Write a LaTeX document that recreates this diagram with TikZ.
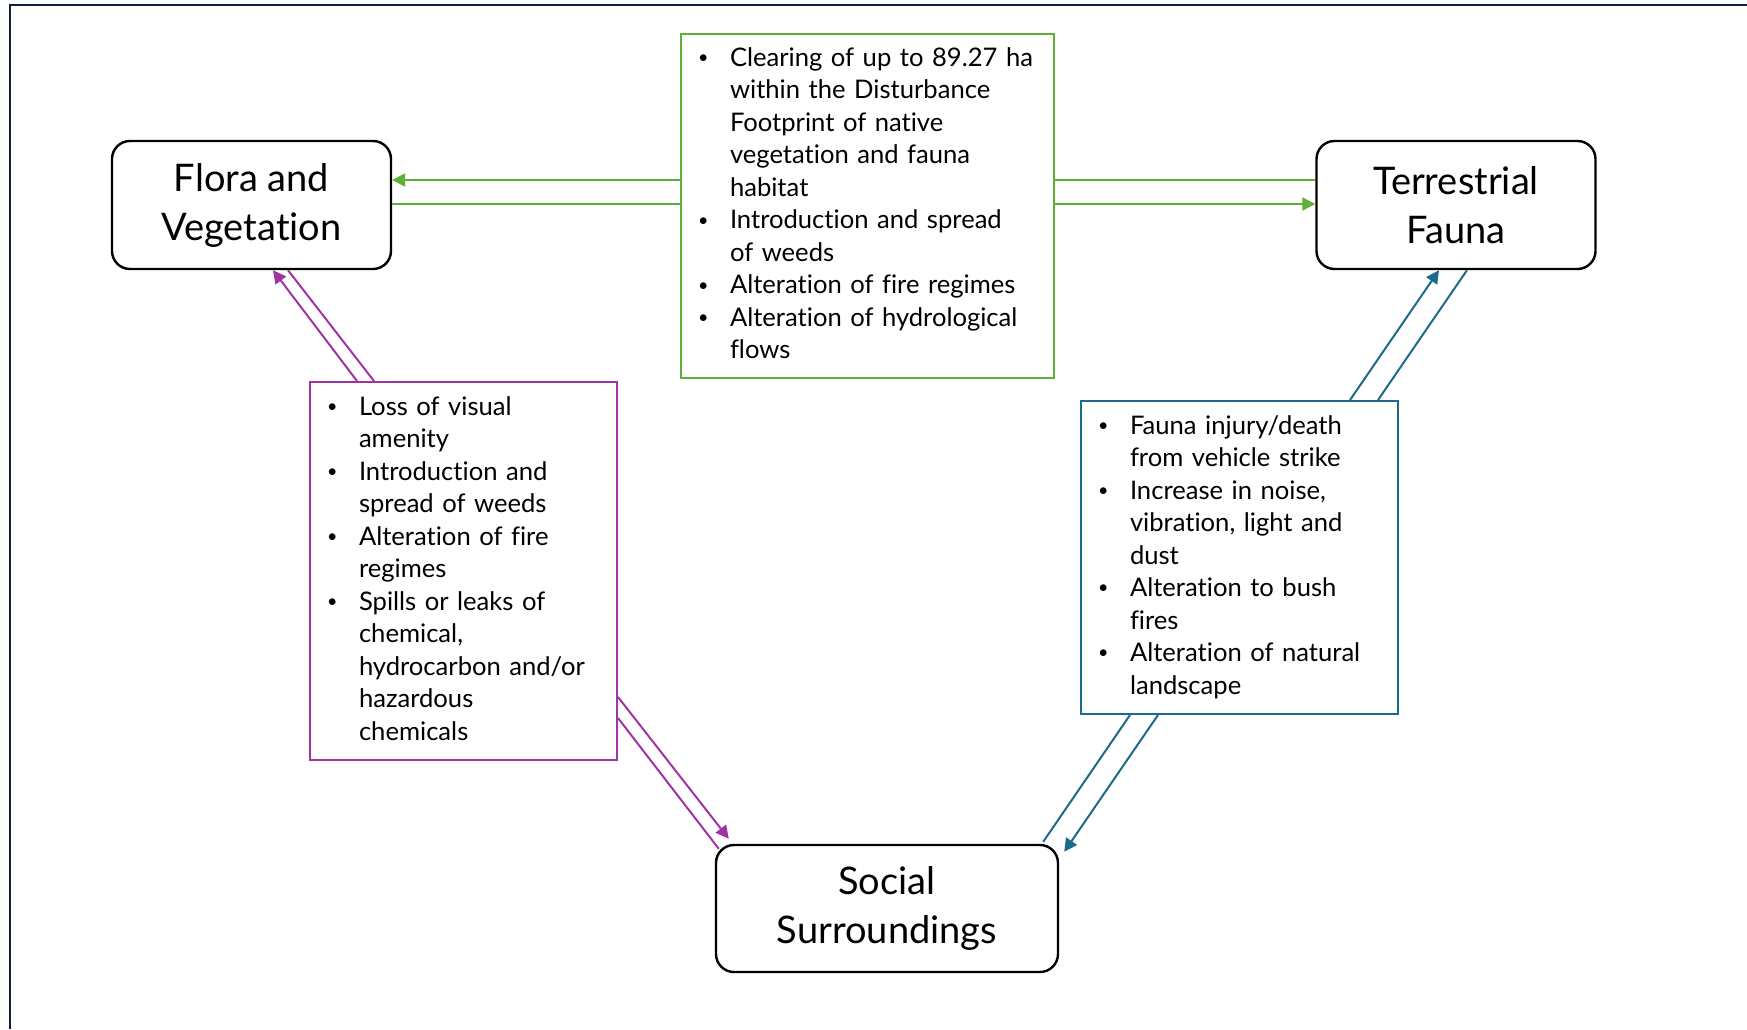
\documentclass[tikz,border=0pt]{standalone}
\usepackage{fontspec}
\setmainfont[Ligatures={NoCommon}]{Lato}
\usepackage{xcolor}
\usepackage{tikz}
\usetikzlibrary{shapes.geometric, arrows.meta, positioning}
\definecolor{frame}{RGB}{14, 30, 64}
\definecolor{ffgreen}{RGB}{94, 176, 58}
\definecolor{fspurple}{RGB}{160, 52, 164}
\definecolor{tsblue}{RGB}{28, 106, 140}
\tikzstyle{receptor} = [rectangle, rounded corners=9pt, minimum width=139.5pt, minimum height=64pt, align=center, draw=black, line width=1.2pt, font=\fontsize{19}{24.5}\selectfont]
\tikzstyle{impact} = [rectangle, line width=1pt, inner xsep=8.5pt, inner ysep=0pt, align=left, font=\fontsize{12.8}{16.25}\selectfont]
\tikzstyle{garrow} = [line width=1pt, ffgreen, -{Triangle[length=6.5pt,width=6.5pt]}]
\tikzstyle{gline} = [line width=1pt, ffgreen]
\tikzstyle{parrow} = [line width=1pt, fspurple, -{Triangle[length=6.5pt,width=6.5pt]}]
\tikzstyle{pline} = [line width=1pt, fspurple]
\tikzstyle{barrow} = [line width=1pt, tsblue, -{Triangle[length=6.5pt,width=6.5pt]}]
\tikzstyle{bline} = [line width=1pt, tsblue]
\newcommand{\bul}{\raisebox{0.2ex}{\scalebox{0.7}{\textbullet}}}
\begin{document}
\begin{tikzpicture}[x=0.5pt, y=-0.5pt]
		\useasboundingbox (0,0) rectangle (1747,1029);
		\draw [frame, line width=1.2pt] (1747,5) -- (10,5) -- (10,1029);
		
		% Receptors
		\node (flora) [receptor] at (251.5,205) {Flora and\\Vegetation};
		\node (fauna) [receptor] at (1456,205) {Terrestrial\\Fauna};
		\node (social) [receptor, minimum width=171pt, minimum height=63.5pt] at (887,908.5) {Social\\Surroundings};
		
		% Impacts
		\node (impactFF) [impact, draw=ffgreen, text width=169.5pt, minimum height=172pt] at (867.5,206) {%
			\begin{tabular}{@{}p{16pt}@{}l@{}}
				\bul & Clearing of up to 89.27 ha\\
				& within the Disturbance\\
				& Footprint of native\\
				& vegetation and fauna\\
				& habitat\\
				\bul & Introduction and spread\\
				& of weeds\\
				\bul & Alteration of fire regimes\\
				\bul & Alteration of hydrological\\
				& flows
		\end{tabular}};
		\node (impactFS) [impact, draw=fspurple, text width=136.5pt, minimum height=189pt] at (463.5,571) {%
			\begin{tabular}{@{}p{16pt}@{}l@{}}
				\bul & Loss of visual\\
				& amenity\\
				\bul & Introduction and\\
				& spread of weeds\\
				\bul & Alteration of fire\\
				& regimes\\
				\bul & Spills or leaks of\\
				& chemical,\\
				& hydrocarbon and/or\\
				& hazardous\\
				& chemicals
		\end{tabular}};
		\node (impactTS) [impact, draw=tsblue, text width=141.5pt, minimum height=156.5pt] at (1239.5,557.5) {%
			\begin{tabular}{@{}p{16pt}@{}l@{}}
				\bul & Fauna injury/death\\
				& from vehicle strike\\
				\bul & Increase in noise,\\
				& vibration, light and\\
				& dust\\
				\bul & Alteration to bush\\
				& fires\\
				\bul & Alteration of natural\\
				& landscape
		\end{tabular}};
		
		% Arrows
		\draw [garrow] ([yshift=13pt]impactFF.west) -- ([yshift=13pt]impactFF.west -| flora.east);
		\draw [gline] ([yshift=1pt]impactFF.west) -- ([yshift=1pt]impactFF.west -| flora.east);
		\draw [gline] ([yshift=13pt]impactFF.east) -- ([yshift=13pt]impactFF.east -| fauna.west);
		\draw [garrow] ([yshift=1pt]impactFF.east) -- ([yshift=1pt]impactFF.east -| fauna.west);
		
		\draw [parrow] ([xshift=-53.25pt]impactFS.north) -- ([xshift=10.75pt]flora.south);
		\draw [pline] ([xshift=-44.75pt]impactFS.north) -- ([xshift=18.25pt]flora.south);
		\draw [parrow] ([yshift=-63pt]impactFS.east) -- ([xshift=7pt, yshift=2.5pt]social.north west);
		\draw [pline] ([yshift=-73.5pt]impactFS.east) -- ([xshift=2pt, yshift=-2.5pt]social.north west);
		
		\draw [bline] ([xshift=-54.75pt]impactTS.south) -- ([xshift=-8pt, yshift=1pt]social.north east);
		\draw [barrow] ([xshift=-40.75pt]impactTS.south) -- ([xshift=2.5pt, yshift=-4pt]social.north east);
		\draw [barrow] ([xshift=55.25pt]impactTS.north) -- ([xshift=-8.5pt]fauna.south);
		\draw [bline] ([xshift=69.25pt]impactTS.north) -- ([xshift=5.5pt]fauna.south);
		
	\end{tikzpicture}
\end{document}
